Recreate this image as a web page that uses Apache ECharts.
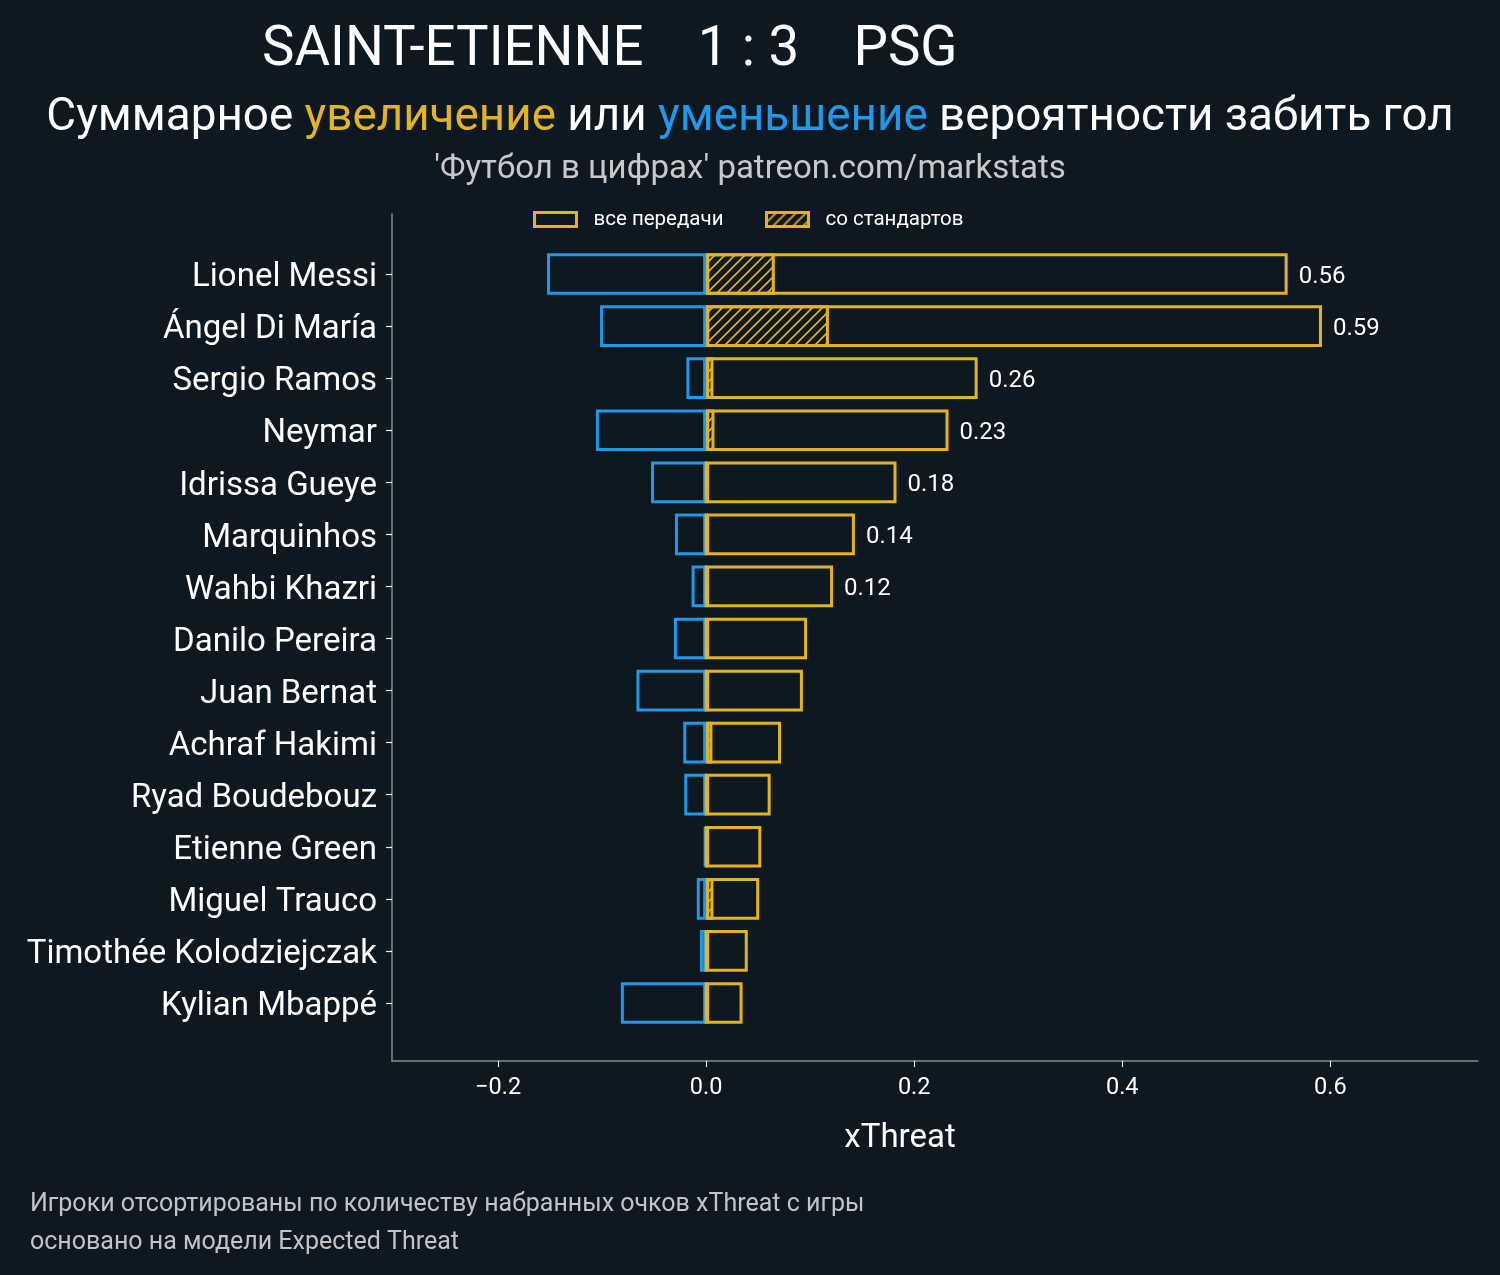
<!DOCTYPE html>
<html>
<head>
<meta charset="utf-8">
<script src="https://cdn.jsdelivr.net/npm/echarts@6/dist/echarts.min.js"></script>
<style>
html,body{margin:0;padding:0;background:#0e1821;}
#chart{width:1500px;height:1275px;}
</style>
</head>
<body>
<div id="chart"></div>
<script>
const players = ['Lionel Messi','Ángel Di María','Sergio Ramos','Neymar','Idrissa Gueye','Marquinhos','Wahbi Khazri','Danilo Pereira','Juan Bernat','Achraf Hakimi','Ryad Boudebouz','Etienne Green','Miguel Trauco','Timothée Kolodziejczak','Kylian Mbappé'];
const increase = [0.559,0.592,0.261,0.233,0.183,0.143,0.122,0.097,0.093,0.072,0.062,0.053,0.051,0.040,0.035];
const decrease = [-0.153,-0.102,-0.019,-0.106,-0.053,-0.030,-0.014,-0.031,-0.067,-0.022,-0.021,-0.002,-0.009,-0.006,-0.082];
const setPieces = [0.066,0.118,0.007,0.008,0,0,0,0,0,0.006,0,0,0.007,0,0];
const xTicks = [-0.2,0.0,0.2,0.4,0.6];

const BG = '#0e1821', YEL = '#e5b41d', BLU = '#1d9aec', AX = '#7e8f8b';
const FONT = 'Roboto';

const pc = document.createElement('canvas');
pc.width = 10; pc.height = 10;
const g = pc.getContext('2d');
g.strokeStyle = YEL; g.lineWidth = 1.6;
g.beginPath();
g.moveTo(-5,5); g.lineTo(5,-5);
g.moveTo(0,10); g.lineTo(10,0);
g.moveTo(5,15); g.lineTo(15,5);
g.stroke();

const chart = echarts.init(document.getElementById('chart'), null, {renderer:'canvas'});
const XMIN = -0.302, XMAX = 0.742;
const rs = c => ({color:c, fontSize:45.8, fontWeight:'normal', fontFamily: FONT});
chart.setOption({
  backgroundColor: BG,
  animation: false,
  textStyle: {fontFamily: FONT},
  title: [
    {text: 'SAINT-ETIENNE    1 : 3    PSG', left: 257, top: 19,
     textStyle: {color:'#ffffff', fontSize: 54.6, fontWeight: 'normal', fontFamily: FONT}},
    {text: '{w|Суммарное }{y|увеличение}{w| или }{b|уменьшение}{w| вероятности забить гол}', left: 'center', top: 91,
     textStyle: {fontWeight:'normal', rich: {w: rs('#ffffff'), y: rs(YEL), b: rs(BLU)}}},
    {text: "'Футбол в цифрах' patreon.com/markstats", left: 'center', top: 148,
     textStyle: {color:'#c9c9c9', fontSize: 33, fontWeight:'normal', fontFamily: FONT}},
    {text: 'xThreat', left: 895, textAlign: 'center', top: 1117,
     textStyle: {color:'#ffffff', fontSize: 33, fontWeight:'normal', fontFamily: FONT}},
    {text: 'Игроки отсортированы по количеству набранных очков xThreat с игры\nосновано на модели Expected Threat', left: 25, top: 1181,
     textStyle: {color:'#c4c4c4', fontSize: 25, fontWeight:'normal', lineHeight: 38, fontFamily: FONT}}
  ],
  legend: [
    {data:['все передачи'], left: 528, top: 204, itemWidth: 42, itemHeight: 14, icon: 'rect',
     itemStyle:{borderWidth:3},
     textStyle:{color:'#ffffff', fontSize:20.5, padding:[0,0,0,12], fontFamily: FONT}},
    {data:['со стандартов'], left: 760, top: 204, itemWidth: 42, itemHeight: 14, icon: 'rect',
     itemStyle:{borderWidth:3},
     textStyle:{color:'#ffffff', fontSize:20.5, padding:[0,0,0,12], fontFamily: FONT}}
  ],
  grid: [
    {left: 392, right: 22, top: 214, bottom: 214},
    {left: 392, right: 22, top: 248, bottom: 246}
  ],
  xAxis: [
    {type:'value', gridIndex:0, min:XMIN, max:XMAX,
     axisLine:{show:true, onZero:false, lineStyle:{color:AX, width:1.5}},
     axisTick:{show:true, length:6, lineStyle:{color:'#ffffff', width:1.2}, customValues: xTicks},
     axisLabel:{color:'#ffffff', fontSize:23.5, margin:15, customValues: xTicks,
       formatter: v => (v < 0 ? '\u2212' + Math.abs(v).toFixed(1) : v.toFixed(1)), fontFamily: FONT},
     splitLine:{show:false}},
    {type:'value', gridIndex:1, min:XMIN, max:XMAX, show:false}
  ],
  yAxis: [
    {type:'value', gridIndex:0, min:0, max:1,
     axisLine:{show:true, onZero:false, lineStyle:{color:AX, width:1.5}},
     axisTick:{show:false}, axisLabel:{show:false}, splitLine:{show:false}},
    {type:'category', gridIndex:1, data: players, inverse:true,
     axisLine:{show:false, onZero:false},
     axisTick:{show:true, alignWithLabel:true, length:6, lineStyle:{color:'#ffffff', width:1.2}},
     axisLabel:{color:'#ffffff', fontSize:33, margin:15, fontFamily: FONT,
       formatter: v => '{a|' + v + '}',
       rich: {a: {color:'#ffffff', fontSize:33, fontFamily: FONT, padding:[8,0,0,0]}}},
     splitLine:{show:false}}
  ],
  series: [
    {name:'уменьшение', type:'bar', xAxisIndex:1, yAxisIndex:1, data: decrease,
     barWidth:'80%', barGap:'-100%',
     itemStyle:{color:'rgba(0,0,0,0)', borderColor:BLU, borderWidth:3}},
    {name:'все передачи', type:'bar', xAxisIndex:1, yAxisIndex:1, data: increase,
     barWidth:'80%', barGap:'-100%',
     itemStyle:{color:'rgba(0,0,0,0)', borderColor:YEL, borderWidth:3},
     label:{show:true, position:'right', distance:11, offset:[0,3], color:'#ffffff', fontSize:24, fontFamily: FONT,
       formatter: p => (p.value >= 0.1 ? p.value.toFixed(2) : '')}},
    {name:'со стандартов', type:'bar', xAxisIndex:1, yAxisIndex:1, data: setPieces,
     barWidth:'80%', barGap:'-100%',
     itemStyle:{color:{image: pc, repeat:'repeat'}, borderColor:YEL, borderWidth:3}}
  ]
});
</script>
</body>
</html>
